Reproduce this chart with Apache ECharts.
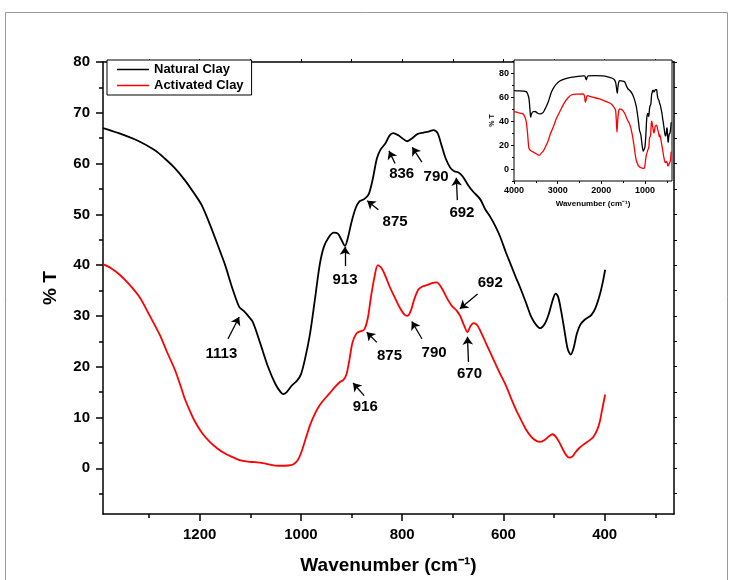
<!DOCTYPE html>
<html>
<head>
<meta charset="utf-8">
<script src="https://cdn.jsdelivr.net/npm/echarts@6/dist/echarts.min.js"></script>
<style>html,body{margin:0;padding:0;background:#fff}#c{width:734px;height:580px}</style>
</head>
<body>
<div id="c"></div>
<script>
// ---------- data ----------
var blackWn = [1391,1360,1322,1290,1269,1250,1229,1210,1196,1177,1160,1150,1135,1122,1113,1105,1095,1080,1065,1050,1040,1035,1028,1018,1008,1000,992,982,972,963,955,945,935,927,920,913,907,900,892,884,875,866,858,850,843,833,825,818,808,800,790,780,770,758,748,738,730,722,714,705,697,688,680,670,660,646,636,626,615,606,595,585,575,567,555,545,535,527,518,510,503,497,492,486,480,473,467,461,455,448,440,433,426,418,410,404,399];
var blackT = [67.0,66.0,64.5,62.7,61.0,59.2,56.7,54.0,51.8,47.3,42.8,40.1,35.3,31.8,31.0,30.1,28.8,24.5,20.0,16.5,15.0,14.6,15.0,16.3,17.2,18.5,21.5,26.5,33.5,40.0,43.5,45.5,46.4,46.2,45.0,43.8,45.5,48.5,51.2,52.6,53.0,54.0,57.0,61.0,62.7,64.0,65.5,66.0,65.6,65.0,64.4,65.0,65.8,66.1,66.3,66.6,66.0,63.5,61.0,59.2,58.5,58.2,57.4,55.8,54.5,53.0,51.0,49.5,47.5,45.5,42.5,40.0,37.5,35.6,32.5,29.8,28.2,27.6,28.5,30.5,33.0,34.4,33.8,31.0,27.5,23.5,22.4,23.8,26.5,28.3,29.2,29.7,30.2,31.6,34.0,36.5,39.1];
var redWn = [1391,1375,1358,1340,1318,1300,1279,1265,1249,1238,1229,1218,1210,1195,1180,1165,1150,1135,1121,1105,1091,1075,1061,1045,1032,1020,1012,1005,998,990,982,972,963,953,943,933,923,916,910,904,898,890,882,875,868,862,855,848,840,832,824,814,804,796,790,783,776,768,760,750,740,732,722,712,702,692,685,678,671,665,659,652,643,633,620,606,595,585,575,565,555,545,535,527,518,510,503,497,490,483,476,470,464,458,450,440,430,422,415,410,405,399];
var redT = [40.2,39.4,38.1,36.3,33.6,30.3,26.3,23.0,19.4,16.3,13.6,11.0,9.3,6.9,5.2,3.9,2.9,2.2,1.6,1.3,1.2,1.0,0.7,0.5,0.5,0.6,1.0,1.8,3.5,6.0,8.5,10.8,12.4,13.7,14.8,16.0,17.0,17.4,18.5,21.5,24.8,26.6,27.0,27.3,29.5,33.5,37.5,40.0,39.3,37.6,35.6,33.5,31.5,30.3,30.0,31.0,33.3,35.2,35.8,36.1,36.5,36.6,35.5,33.6,32.0,31.0,29.9,28.2,26.8,28.0,28.6,28.2,26.5,24.3,21.5,18.5,16.3,13.8,11.5,9.5,7.6,6.2,5.4,5.2,5.6,6.3,6.7,6.3,5.2,3.8,2.6,2.1,2.3,3.1,4.0,4.8,5.5,6.2,7.5,9.0,11.5,14.5];
// inset: high-wavenumber part (continues with the main arrays below 1400)
var insetBlackWn = [4000,3900,3800,3718,3680,3656,3635,3618,3600,3565,3520,3489,3450,3412,3370,3336,3290,3250,3221,3180,3145,3090,3031,2950,2850,2700,2573,2450,2382,2360,2344,2325,2305,2150,1962,1850,1760,1700,1670,1650,1634,1620,1600,1580,1540,1466,1420];
var insetBlackT = [65.4,65.2,65.0,64.6,62,58.5,50,43.3,46,47.8,48,47.5,46.3,46.0,46.3,47,50,53,55.5,60,64,68,70.9,73.5,75,76.5,77.2,77.6,77.8,76,74.5,76.5,77.8,78,77.8,77,76,74.5,72,67,63.2,68,72.5,73.8,73.5,72.8,69];
var insetRedWn = [4000,3900,3794,3750,3718,3690,3670,3656,3620,3565,3500,3450,3412,3370,3330,3298,3260,3221,3170,3100,3031,2950,2840,2760,2687,2550,2420,2385,2366,2345,2321,2200,2038,1900,1771,1700,1672,1655,1641,1625,1600,1580,1540,1504,1450,1420];
var insetRedT = [48,47,46,43.5,39.2,30,21,17.1,15.5,14.3,13,11.8,11.6,13.5,15,17.1,20,23.2,29,35,41.9,48,55.7,59.5,61.8,62.5,62.6,61,55.7,58,61.2,60,58.5,56.5,54.3,51,48.8,40,30.9,40,48.5,50.2,49.8,48.8,45.5,42.5];

var xTickLabels = [400,600,800,1000,1200];
var xMinorTicks = [300,500,700,900,1100,1300];
var yTickLabels = [0,10,20,30,40,50,60,70,80];
var yMinorTicks = [-5,5,15,25,35,45,55,65,75];
var insetXTickLabels = [1000,2000,3000,4000];
var insetXMinorTicks = [500,1500,2500,3500];
var insetYTickLabels = [0,20,40,60,80];
var insetYMinorTicks = [-10,10,30,50,70,90];

// annotations: label text, label position, arrow tail, arrow head (data coords)
var blackNotes = [
  ['1113', [1157,22.5], [1144,25.5], [1122,29.8]],
  ['913',  [913,37.1],  [913,39.8],  [913,43.6]],
  ['875',  [814,48.6],  [847,50.9],  [869,52.7]],
  ['836',  [801,58.0],  [814,60.0],  [826,62.5]],
  ['790',  [733,57.4],  [761,60.3],  [780,63.2]],
  ['692',  [682,50.2],  [691,52.8],  [693,57.2]]
];
var redNotes = [
  ['916', [873,12.1], [875,14.3], [897,16.8]],
  ['875', [825,22.2], [850,24.8], [870,26.8]],
  ['790', [737,22.7], [761,25.5], [781,28.9]],
  ['692', [626,36.5], [651,34.3], [686,31.4]],
  ['670', [667,18.6], [669,20.9], [671,25.9]]
];

// ---------- build ----------
function pairs(xs, ys){ return xs.map(function(x,i){ return [x, ys[i]]; }); }
var FONT = 'Liberation Sans, Arial, sans-serif';
function plain(v){ return String(v); }
function arrows(notes){ return notes.map(function(n){ return [{coord:n[2]},{coord:n[3]}]; }); }
function labels(notes){ return notes.map(function(n){ return {name:n[0], coord:n[1]}; }); }

var markLineStyle = {
  silent: true, animation: false,
  symbol: ['none','arrow'], symbolSize: 8,
  lineStyle: {color:'#000', width:1.3, type:'solid'},
  label: {show:false}
};
var markPointStyle = {
  silent: true, animation: false,
  symbol: 'circle', symbolSize: 0,
  label: {show:true, position:'inside', formatter:'{b}', color:'#000', fontFamily:FONT, fontWeight:'bold', fontSize:15}
};

var axisLineStyle = {show:true, onZero:false, lineStyle:{color:'#000', width:1.5}};
var noLine = {show:false, onZero:false};

var option = {
  animation: false,
  backgroundColor: '#fff',
  textStyle: {fontFamily: FONT},
  graphic: [{
    type:'rect', silent:true, z:-10,
    shape:{x:5.5, y:12.5, width:722, height:620},
    style:{fill:'none', stroke:'#9a9a9a', lineWidth:1}
  }],
  legend: {
    data: ['Natural Clay','Activated Clay'],
    orient: 'vertical', left: 107, top: 60,
    padding: [3,8,3,10], itemGap: 3,
    itemWidth: 32, itemHeight: 14,
    icon: 'path://M0,0 L64,0 L64,3 L0,3 Z',
    borderColor: '#000', borderWidth: 1, backgroundColor:'#fff',
    textStyle: {fontFamily:FONT, fontWeight:'bold', fontSize:13, color:'#000'}
  },
  grid: [
    {left:103, top:62, right:60, bottom:62},
    {left:514, top:60, right:62, bottom:399, show:true, backgroundColor:'#fff', borderColor:'#000', borderWidth:1, z:5}
  ],
  xAxis: [
    {gridIndex:0, type:'value', min:263, max:1391, inverse:true, position:'bottom',
     name:'Wavenumber (cm\u207B\u00B9)', nameLocation:'middle', nameGap:42,
     nameTextStyle:{fontFamily:FONT, fontWeight:'bold', fontSize:19, color:'#000'},
     axisLine: axisLineStyle, splitLine:{show:false},
     axisTick:{show:true, inside:false, length:7, customValues:xTickLabels, lineStyle:{color:'#000', width:1.5}},
     axisLabel:{show:true, customValues:xTickLabels, formatter:plain, margin:13, color:'#000', fontFamily:FONT, fontWeight:'bold', fontSize:15}},
    {gridIndex:0, type:'value', min:263, max:1391, inverse:true, position:'bottom',
     axisLine:noLine, splitLine:{show:false}, axisLabel:{show:false},
     axisTick:{show:true, inside:false, length:4, customValues:xMinorTicks, lineStyle:{color:'#000', width:1.5}}},
    {gridIndex:0, type:'value', min:263, max:1391, inverse:true, position:'top',
     axisLine: axisLineStyle, splitLine:{show:false}, axisLabel:{show:false},
     axisTick:{show:true, inside:false, length:3, customValues:xTickLabels.concat(xMinorTicks), lineStyle:{color:'#000', width:1}}},
    {gridIndex:1, type:'value', min:380, max:4000, inverse:true, position:'bottom',
     name:'Wavenumber (cm\u207B\u00B9)', nameLocation:'middle', nameGap:19,
     nameTextStyle:{fontFamily:FONT, fontWeight:'bold', fontSize:8, color:'#000'},
     axisLine:noLine, splitLine:{show:false},
     axisTick:{show:true, inside:false, length:3, customValues:insetXTickLabels, lineStyle:{color:'#000', width:1}},
     axisLabel:{show:true, customValues:insetXTickLabels, formatter:plain, margin:5, color:'#000', fontFamily:FONT, fontWeight:'bold', fontSize:9}},
    {gridIndex:1, type:'value', min:380, max:4000, inverse:true, position:'bottom',
     axisLine:noLine, splitLine:{show:false}, axisLabel:{show:false},
     axisTick:{show:true, inside:false, length:2, customValues:insetXMinorTicks, lineStyle:{color:'#000', width:1}}}
  ],
  yAxis: [
    {gridIndex:0, type:'value', min:-9, max:80, position:'left',
     name:'% T', nameLocation:'middle', nameGap:43, nameRotate:90,
     nameTextStyle:{fontFamily:FONT, fontWeight:'bold', fontSize:19, color:'#000'},
     axisLine: axisLineStyle, splitLine:{show:false},
     axisTick:{show:true, inside:false, length:7, customValues:yTickLabels, lineStyle:{color:'#000', width:1.5}},
     axisLabel:{show:true, customValues:yTickLabels, formatter:plain, margin:13, color:'#000', fontFamily:FONT, fontWeight:'bold', fontSize:15}},
    {gridIndex:0, type:'value', min:-9, max:80, position:'left',
     axisLine:noLine, splitLine:{show:false}, axisLabel:{show:false},
     axisTick:{show:true, inside:false, length:4, customValues:yMinorTicks, lineStyle:{color:'#000', width:1.5}}},
    {gridIndex:0, type:'value', min:-9, max:80, position:'right',
     axisLine: axisLineStyle, splitLine:{show:false}, axisLabel:{show:false},
     axisTick:{show:true, inside:false, length:3, customValues:yTickLabels.concat(yMinorTicks), lineStyle:{color:'#000', width:1}}},
    {gridIndex:1, type:'value', min:-10, max:91, position:'left',
     name:'% T', nameLocation:'middle', nameGap:14, nameRotate:90,
     nameTextStyle:{fontFamily:FONT, fontWeight:'bold', fontSize:7, color:'#000'},
     axisLine:noLine, splitLine:{show:false},
     axisTick:{show:true, inside:false, length:3, customValues:insetYTickLabels, lineStyle:{color:'#000', width:1}},
     axisLabel:{show:true, customValues:insetYTickLabels, formatter:plain, margin:5, color:'#000', fontFamily:FONT, fontWeight:'bold', fontSize:9}},
    {gridIndex:1, type:'value', min:-10, max:91, position:'left',
     axisLine:noLine, splitLine:{show:false}, axisLabel:{show:false},
     axisTick:{show:true, inside:false, length:2, customValues:insetYMinorTicks, lineStyle:{color:'#000', width:1}}}
  ],
  series: [
    {name:'Natural Clay', type:'line', xAxisIndex:0, yAxisIndex:0, data:pairs(blackWn, blackT),
     symbol:'none', smooth:0.3, lineStyle:{color:'#000', width:1.8}, itemStyle:{color:'#000'},
     markLine: Object.assign({data:arrows(blackNotes)}, markLineStyle),
     markPoint: Object.assign({data:labels(blackNotes)}, markPointStyle)},
    {name:'Activated Clay', type:'line', xAxisIndex:0, yAxisIndex:0, data:pairs(redWn, redT),
     symbol:'none', smooth:0.3, lineStyle:{color:'#ff0000', width:1.8}, itemStyle:{color:'#ff0000'},
     markLine: Object.assign({data:arrows(redNotes)}, markLineStyle),
     markPoint: Object.assign({data:labels(redNotes)}, markPointStyle)},
    {name:'Natural Clay', type:'line', xAxisIndex:3, yAxisIndex:3, z:6,
     data:pairs(insetBlackWn.concat(blackWn), insetBlackT.concat(blackT)),
     symbol:'none', smooth:0.3, lineStyle:{color:'#000', width:1.3}, itemStyle:{color:'#000'}},
    {name:'Activated Clay', type:'line', xAxisIndex:3, yAxisIndex:3, z:6,
     data:pairs(insetRedWn.concat(redWn), insetRedT.concat(redT)),
     symbol:'none', smooth:0.3, lineStyle:{color:'#ff0000', width:1.3}, itemStyle:{color:'#ff0000'}}
  ]
};
var chart = echarts.init(document.getElementById('c'), null, {renderer:'canvas'});
chart.setOption(option);
</script>
</body>
</html>
